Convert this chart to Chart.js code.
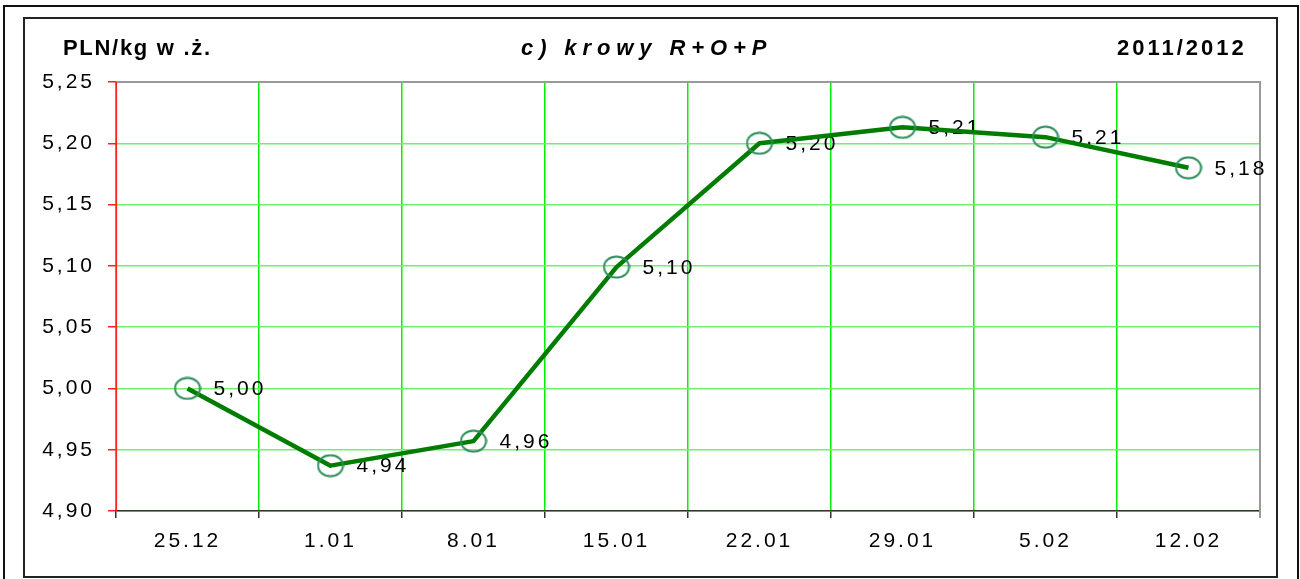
<!DOCTYPE html>
<html>
<head>
<meta charset="utf-8">
<script src="https://cdn.jsdelivr.net/npm/chart.js@4.4.0/dist/chart.umd.min.js"></script>
<style>
  html, body { margin: 0; padding: 0; background: #fff; }
  #wrap { position: relative; width: 1300px; height: 579px; overflow: hidden; }
  canvas { position: absolute; left: 0; top: 0; }
  .frame { position: absolute; box-sizing: border-box; pointer-events: none; }
  .outer { left: 3px; top: 5px; width: 1296px; height: 600px; border: 2px solid #111; }
  .inner { left: 23px; top: 17px; width: 1255px; height: 561px; border: 2px solid #222; }
  .txt { position: absolute; font-family: 'Liberation Sans', Arial, sans-serif; font-weight: bold;
         color: #000; line-height: 22px; white-space: nowrap; }
  #unit { left: 63px; top: 37px; font-size: 22px; letter-spacing: 1.7px; }
  #title { left: 521px; top: 37px; font-size: 22px; font-style: italic; letter-spacing: 5.9px; }
  #season { left: 1117px; top: 37px; font-size: 22px; letter-spacing: 3px; }
</style>
</head>
<body>
<div id="wrap">
  <canvas id="chart" width="1300" height="579"></canvas>
  <div class="frame outer"></div>
  <div class="frame inner"></div>
  <div class="txt" id="unit">PLN/kg w .ż.</div>
  <div class="txt" id="title">c) krowy R+O+P</div>
  <div class="txt" id="season">2011/2012</div>
</div>
<script>
// weekly prices, cows R+O+P
const weeks = ['25.12', '1.01', '8.01', '15.01', '22.01', '29.01', '5.02', '12.02'];
const prices = [5.000, 4.937, 4.957, 5.099, 5.200, 5.213, 5.205, 5.180];
const yMin = 4.90;
const yMax = 5.25;
const yStep = 0.05;

const FONT = "'Liberation Sans', Arial, sans-serif";
const fmt = v => v.toFixed(2).replace('.', ',');

// hollow elliptical marker like the Excel original
const marker = document.createElement('canvas');
marker.width = 28;
marker.height = 24;
(() => {
  const m = marker.getContext('2d');
  m.strokeStyle = '#2b8c5a';
  m.lineWidth = 2;
  m.beginPath();
  m.ellipse(14, 12, 12.5, 10.5, 0, 0, Math.PI * 2);
  m.stroke();
})();

// canvas letter spacing (Excel-ish wide text)
const spacing = {
  id: 'spacing',
  beforeLayout(chart) { chart.ctx.letterSpacing = '3px'; },
  beforeDraw(chart) { chart.ctx.letterSpacing = '3px'; }
};

// plot frame: gray top/right, red value axis on the left
const plotFrame = {
  id: 'plotFrame',
  beforeDatasetsDraw(chart) {
    const { ctx, chartArea: a } = chart;
    ctx.save();
    ctx.lineWidth = 2;
    ctx.strokeStyle = '#9a9a9a';
    ctx.beginPath();
    ctx.moveTo(a.left, a.top);
    ctx.lineTo(a.right, a.top);
    ctx.lineTo(a.right, a.bottom + 7);
    ctx.stroke();
    ctx.lineWidth = 1.2;
    ctx.strokeStyle = '#ff2020';
    ctx.beginPath();
    ctx.moveTo(Math.round(a.left) + 0.5, a.top);
    ctx.lineTo(Math.round(a.left) + 0.5, a.bottom);
    ctx.stroke();
    ctx.restore();
  }
};

// value labels right of each marker, under the line
const valueLabels = {
  id: 'valueLabels',
  beforeDatasetsDraw(chart) {
    const ctx = chart.ctx;
    const meta = chart.getDatasetMeta(0);
    ctx.save();
    ctx.letterSpacing = '3px';
    ctx.font = '21px ' + FONT;
    ctx.fillStyle = '#000';
    ctx.textAlign = 'left';
    ctx.textBaseline = 'middle';
    meta.data.forEach((pt, i) => {
      ctx.fillText(fmt(prices[i]), pt.x + 26, pt.y + 1);
    });
    ctx.restore();
  }
};

new Chart(document.getElementById('chart'), {
  type: 'line',
  data: {
    labels: weeks,
    datasets: [{
      data: prices,
      borderColor: '#007d00',
      borderWidth: 4.5,
      borderJoinStyle: 'round',
      tension: 0,
      pointStyle: marker,
      pointRadius: 12
    }]
  },
  options: {
    responsive: false,
    animation: false,
    devicePixelRatio: 1,
    layout: { padding: { left: 0, top: 82, right: 40, bottom: 0 } },
    plugins: {
      legend: { display: false },
      title: { display: false },
      tooltip: { enabled: false }
    },
    scales: {
      x: {
        offset: true,
        afterFit(s) { s.height = 68; },
        grid: {
          offset: true,
          color: '#00f000',
          lineWidth: 1.5,
          tickColor: '#333',
          tickLength: 7
        },
        border: { color: '#333', width: 1.5 },
        ticks: { color: '#000', font: { family: FONT, size: 21 }, padding: 11, maxRotation: 0 }
      },
      y: {
        min: yMin,
        max: yMax,
        afterFit(s) { s.width = 116; },
        grid: {
          color: '#70f070',
          lineWidth: 1.5,
          tickColor: '#ff2020',
          tickLength: 8
        },
        border: { color: '#ff2020', width: 1 },
        ticks: {
          stepSize: yStep,
          color: '#000',
          font: { family: FONT, size: 21 },
          padding: 13,
          callback: v => fmt(v)
        }
      }
    }
  },
  plugins: [spacing, plotFrame, valueLabels]
});
</script>
</body>
</html>
